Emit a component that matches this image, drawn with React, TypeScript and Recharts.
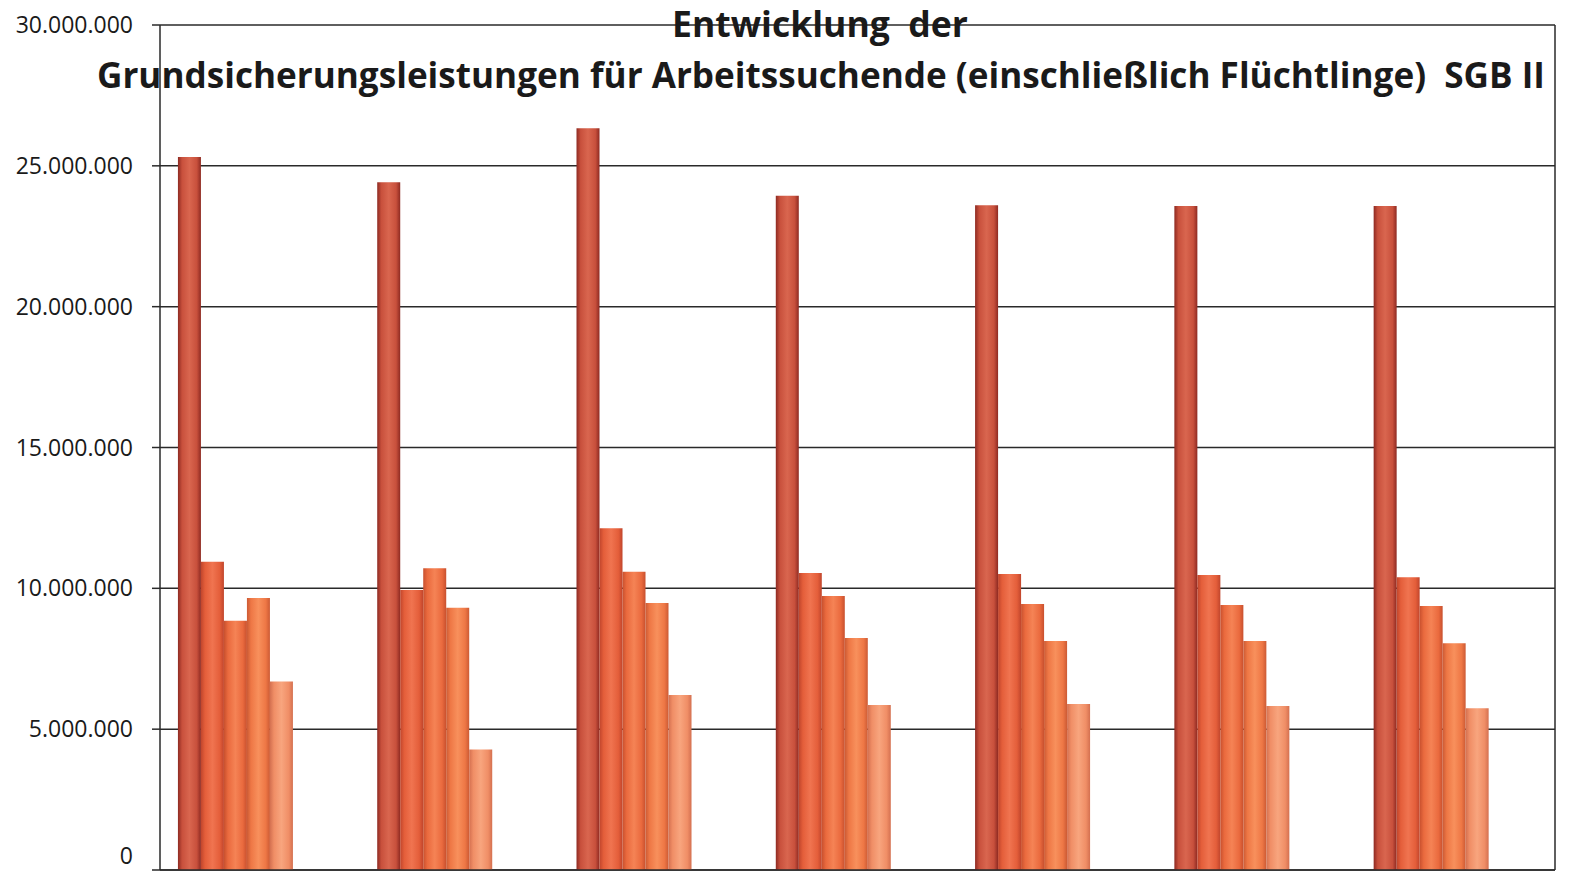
import { BarChart, Bar, XAxis, YAxis, CartesianGrid } from "recharts";

// Gruppen (Beschriftung der x-Achse ist im Bild abgeschnitten)
const gruppen = ["1", "2", "3", "4", "5", "6", "7"];

// Werte je Reihe in Euro
const reihe1 = [25310000, 24420000, 26330000, 23940000, 23600000, 23570000, 23570000];
const reihe2 = [10940000, 9940000, 12130000, 10540000, 10510000, 10470000, 10390000];
const reihe3 = [8850000, 10710000, 10590000, 9730000, 9440000, 9410000, 9370000];
const reihe4 = [9660000, 9310000, 9480000, 8240000, 8130000, 8130000, 8050000];
const reihe5 = [6690000, 4280000, 6210000, 5860000, 5890000, 5820000, 5740000];

const yTicks = [0, 5000000, 10000000, 15000000, 20000000, 25000000, 30000000];

const data = gruppen.map((g, i) => ({
  name: g,
  r1: reihe1[i],
  r2: reihe2[i],
  r3: reihe3[i],
  r4: reihe4[i],
  r5: reihe5[i],
}));

const farben = [
  { id: "g1", edge: "#8e2a22", base: "#c8503c", light: "#d9664f" },
  { id: "g2", edge: "#c0452c", base: "#e45e3a", light: "#f07450" },
  { id: "g3", edge: "#c8502e", base: "#ea6a3e", light: "#f58355" },
  { id: "g4", edge: "#cc5a34", base: "#ee7745", light: "#f8905c" },
  { id: "g5", edge: "#d47050", base: "#f08e66", light: "#f8a57e" },
];

const fmt = (v: number) => String(v).replace(/\B(?=(\d{3})+(?!\d))/g, ".");

// 0 liegt genau am unteren Bildrand, daher etwas hochgezogen
const YTick = (props: any) => {
  const { x, y, payload } = props;
  const dy = payload.value === 0 ? -14 : 0;
  return (
    <text x={x} y={y + dy} dy="0.355em" textAnchor="end" fill="#1a1a1a" fontSize={23} fontFamily="Open Sans">
      {fmt(payload.value)}
    </text>
  );
};

export default function App() {
  return (
    <div style={{ margin: -8, width: 1570, height: 879, overflow: "hidden", position: "relative", background: "#fff" }}>
      <BarChart
        width={1570}
        height={900}
        data={data}
        margin={{ top: 25, right: 12, left: 0, bottom: 0 }}
        barGap={0}
        barCategoryGap="9%"
      >
        <defs>
          {farben.map((f) => (
            <linearGradient key={f.id} id={f.id} x1="0" y1="0" x2="1" y2="0">
              <stop offset="0%" stopColor={f.edge} />
              <stop offset="18%" stopColor={f.base} />
              <stop offset="50%" stopColor={f.light} />
              <stop offset="82%" stopColor={f.base} />
              <stop offset="100%" stopColor={f.edge} />
            </linearGradient>
          ))}
        </defs>
        <CartesianGrid vertical={false} stroke="#2a2a2a" strokeWidth={1.5} />
        <XAxis dataKey="name" tick={false} tickLine={false} height={30} stroke="#2a2a2a" strokeWidth={1.5} />
        <YAxis
          width={160}
          domain={[0, 30000000]}
          ticks={yTicks}
          tickSize={8}
          tickMargin={19}
          interval={0}
          stroke="#2a2a2a"
          strokeWidth={1.5}
          tick={<YTick />}
        />
        <YAxis yAxisId="r" orientation="right" width={3} domain={[0, 30000000]} tick={false} tickLine={false} stroke="#2a2a2a" strokeWidth={1.5} />
        <Bar dataKey="r1" fill="url(#g1)" isAnimationActive={false} />
        <Bar dataKey="r2" fill="url(#g2)" isAnimationActive={false} />
        <Bar dataKey="r3" fill="url(#g3)" isAnimationActive={false} />
        <Bar dataKey="r4" fill="url(#g4)" isAnimationActive={false} />
        <Bar dataKey="r5" fill="url(#g5)" isAnimationActive={false} />
        {/* zwei leere Reihen wie im Original, daher sitzen die Balken links in der Gruppe */}
        <Bar dataKey="leer1" isAnimationActive={false} />
        <Bar dataKey="leer2" isAnimationActive={false} />
      </BarChart>
      <svg width={1570} height={120} style={{ position: "absolute", left: 0, top: 0, pointerEvents: "none" }}>
        <text
          x={672}
          y={37}
          textLength={296}
          lengthAdjust="spacingAndGlyphs"
          fontFamily="Open Sans"
          fontWeight="bold"
          fontSize={35}
          fill="#1a1a1a"
          style={{ whiteSpace: "pre" }}
        >
          Entwicklung  der
        </text>
        <text
          x={97}
          y={88}
          textLength={1448}
          lengthAdjust="spacingAndGlyphs"
          fontFamily="Open Sans"
          fontWeight="bold"
          fontSize={35}
          fill="#1a1a1a"
          style={{ whiteSpace: "pre" }}
        >
          Grundsicherungsleistungen für Arbeitssuchende (einschließlich Flüchtlinge)  SGB II
        </text>
      </svg>
    </div>
  );
}
